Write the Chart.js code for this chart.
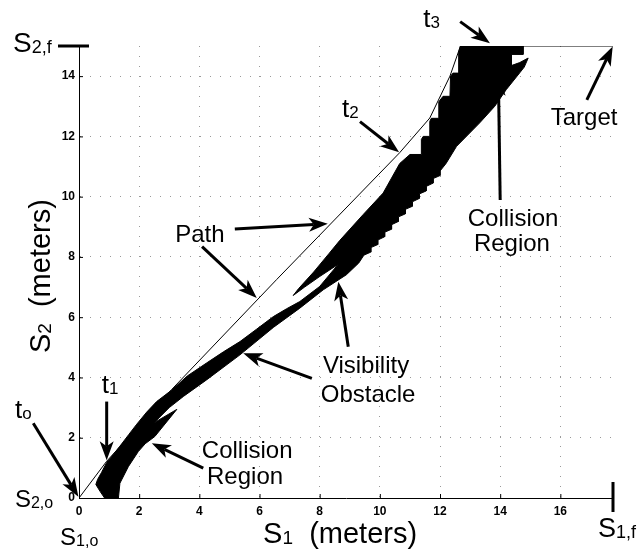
<!DOCTYPE html>
<html>
<head>
<meta charset="utf-8">
<script src="https://cdn.jsdelivr.net/npm/chart.js@4.4.1/dist/chart.umd.min.js"></script>
<style>
  html, body { margin: 0; padding: 0; background: #fff; }
</style>
</head>
<body>
<canvas id="chart" width="639" height="552"></canvas>
<script>
// axis ticks and the end of the domain
const xTicks = [0, 2, 4, 6, 8, 10, 12, 14, 16];
const yTicks = [0, 2, 4, 6, 8, 10, 12, 14];
const s1Final = 17.75;
const s2Final = 15;

// planned path through the s1-s2 plane
const pathPts = [
  [0, 0], [0.92, 1.22], [3.08, 3.6], [6.57, 7.25], [10.66, 11.46],
  [11.66, 12.61], [12.33, 14.0], [12.68, 15.0], [17.75, 15.0],
];

// collision region + visibility obstacle outline (closed)
const obstaclePts = [
  [0.85, 0.0], [0.7, 0.22], [0.56, 0.45], [0.62, 0.62], [0.75, 0.85],
  [0.92, 1.18], [1.15, 1.45], [1.36, 1.72], [1.65, 2.1], [1.92, 2.45],
  [2.25, 2.85], [2.58, 3.2], [3.08, 3.58], [3.6, 4.05], [4.24, 4.48],
  [4.8, 4.85], [5.35, 5.19], [5.9, 5.6], [6.46, 6.02], [6.9, 6.28],
  [7.34, 6.52], [8.0, 7.02], [8.61, 7.75],
  [8.0, 7.35], [7.5, 7.0], [7.12, 6.72], [7.3, 6.95], [7.8, 7.5],
  [8.3, 8.1], [8.67, 8.55], [9.44, 9.4], [10.11, 10.12], [10.66, 11.1],
  [11.0, 11.4], [11.38, 11.4], [11.38, 11.9], [11.44, 12.0], [11.66, 12.0],
  [11.66, 12.5], [11.71, 12.6], [11.96, 12.6], [11.96, 13.15], [12.1, 13.33],
  [12.33, 13.33], [12.35, 14.0], [12.43, 14.1], [12.6, 14.1], [12.62, 14.8],
  [12.68, 15.0], [14.76, 15.0], [14.76, 14.72], [14.37, 14.72], [14.37, 14.35],
  [14.65, 14.45], [14.93, 14.6], [14.8, 14.3], [14.65, 14.11], [14.2, 13.55],
  [13.82, 13.0], [13.32, 12.45], [12.55, 11.67], [12.2, 11.1],
  [12.0, 10.85], [12.0, 10.7], [11.77, 10.6], [11.77, 10.45], [11.54, 10.34],
  [11.54, 10.19], [11.31, 10.09], [11.31, 9.94], [11.08, 9.83], [11.08, 9.68],
  [10.85, 9.58], [10.85, 9.43], [10.62, 9.33], [10.62, 9.18], [10.39, 9.07],
  [10.39, 8.92], [10.16, 8.82], [10.16, 8.67], [9.93, 8.56], [9.93, 8.41],
  [9.7, 8.31], [9.7, 8.16], [9.47, 8.06], [9.3, 7.8], [8.89, 7.41],
  [8.12, 6.91], [7.34, 6.3], [6.46, 5.66], [5.35, 4.75], [4.24, 3.92],
  [3.47, 3.37], [3.0, 3.0], [2.5, 2.5], [3.25, 2.94], [2.52, 2.04],
  [2.2, 1.8], [1.97, 1.54], [1.64, 1.04], [1.36, 0.49], [1.31, 0.0],
  [0.85, 0.0],
];

const toXY = pts => pts.map(([x, y]) => ({ x, y }));

// annotation layout, in data units
const arrows = [
  [[-1.52, 2.48], [-0.02, 0.04]],
  [[0.92, 3.2], [0.92, 1.25]],
  [[9.34, 12.49], [10.64, 11.47]],
  [[12.67, 15.81], [13.66, 15.09]],
  [[16.88, 13.21], [17.74, 14.98]],
  [[5.18, 8.93], [8.27, 9.1]],
  [[4.09, 8.34], [5.91, 6.64]],
  [[8.95, 5.02], [8.62, 7.18]],
  [[7.74, 3.97], [5.46, 4.8]],
  [[4.13, 0.99], [2.42, 1.82]],
  [[14.0, 9.89], [13.94, 13.98]],
];

const words = [
  { text: 'Path', at: [4.02, 8.5] },
  { text: 'Visibility', at: [9.54, 4.15] },
  { text: 'Obstacle', at: [9.61, 3.19] },
  { text: 'Target', at: [16.79, 12.38] },
  { text: 'Collision', at: [14.43, 9.03] },
  { text: 'Region', at: [14.39, 8.2] },
  { text: 'Collision', at: [5.59, 1.33] },
  { text: 'Region', at: [5.52, 0.46] },
];

const subLabels = [
  { main: 't', sub: 'o', at: [-2.13, 2.66], size: 26, subSize: 17 },
  { main: 't', sub: '1', at: [0.76, 3.48], size: 26, subSize: 17 },
  { main: 't', sub: '2', at: [8.74, 12.64], size: 26, subSize: 17 },
  { main: 't', sub: '3', at: [11.44, 15.63], size: 26, subSize: 17 },
  { main: 'S', sub: '2,f', at: [-2.19, 14.8], size: 28, subSize: 18 },
  { main: 'S', sub: '2,o', at: [-2.13, -0.3], size: 24, subSize: 16 },
  { main: 'S', sub: '1,o', at: [-0.63, -1.56], size: 24, subSize: 16 },
  { main: 'S', sub: '1,f', at: [17.25, -1.29], size: 27, subSize: 18 },
];

const FONT = '"Liberation Sans", Arial, Helvetica, sans-serif';

function runs(ctx, parts, x, y) {
  let cx = x;
  for (const p of parts) {
    ctx.font = p.size + 'px ' + FONT;
    ctx.fillText(p.text, cx, y + (p.dy || 0));
    cx += ctx.measureText(p.text).width;
  }
}

function arrow(ctx, x0, y0, x1, y1) {
  const a = Math.atan2(y1 - y0, x1 - x0);
  const len = 19, half = 7, notch = 14;
  const bx = x1 - Math.cos(a) * notch, by = y1 - Math.sin(a) * notch;
  ctx.beginPath();
  ctx.moveTo(x0, y0);
  ctx.lineTo(bx, by);
  ctx.lineWidth = 3;
  ctx.stroke();
  const hx = x1 - Math.cos(a) * len, hy = y1 - Math.sin(a) * len;
  ctx.beginPath();
  ctx.moveTo(x1, y1);
  ctx.lineTo(hx - Math.sin(a) * half, hy + Math.cos(a) * half);
  ctx.lineTo(bx, by);
  ctx.lineTo(hx + Math.sin(a) * half, hy - Math.cos(a) * half);
  ctx.closePath();
  ctx.fill();
}

const decorations = {
  id: 'decorations',
  beforeDraw(chart) {
    const c = chart.ctx;
    c.save();
    c.fillStyle = '#fff';
    c.fillRect(0, 0, chart.width, chart.height);
    c.restore();
  },
  afterDraw(chart) {
    const c = chart.ctx;
    const sx = chart.scales.x, sy = chart.scales.y;
    const X = v => sx.getPixelForValue(v), Y = v => sy.getPixelForValue(v);
    c.save();
    c.fillStyle = '#000';
    c.strokeStyle = '#000';

    // inward tick marks
    c.lineWidth = 1;
    c.beginPath();
    for (const v of xTicks) {
      c.moveTo(X(v) + 0.5, Y(0));
      c.lineTo(X(v) + 0.5, Y(0) - 4);
    }
    for (const v of yTicks) {
      c.moveTo(X(0), Y(v) + 0.5);
      c.lineTo(X(0) + 4, Y(v) + 0.5);
    }
    c.stroke();

    // end markers of both axes
    c.lineWidth = 3;
    c.beginPath();
    c.moveTo(X(0) - 21, Y(s2Final));
    c.lineTo(X(0) + 10, Y(s2Final));
    c.moveTo(X(s1Final), Y(0) - 16);
    c.lineTo(X(s1Final), Y(0) + 14);
    c.stroke();

    for (const [[x0, y0], [x1, y1]] of arrows) {
      arrow(c, X(x0), Y(y0), X(x1), Y(y1));
    }

    c.textBaseline = 'alphabetic';
    c.textAlign = 'center';
    c.font = '24px ' + FONT;
    for (const w of words) {
      c.fillText(w.text, X(w.at[0]), Y(w.at[1]));
    }

    c.textAlign = 'left';
    for (const l of subLabels) {
      runs(c, [
        { text: l.main, size: l.size },
        { text: l.sub, size: l.subSize, dy: 1 },
      ], X(l.at[0]), Y(l.at[1]));
    }

    // axis titles
    runs(c, [
      { text: 'S', size: 29 },
      { text: '1', size: 19, dy: 1 },
      { text: '  (meters)', size: 29 },
    ], X(6.12), Y(-1.49));

    c.translate(X(-0.96), Y(4.81));
    c.rotate(-Math.PI / 2);
    runs(c, [
      { text: 'S', size: 29 },
      { text: '2', size: 19, dy: 1 },
      { text: '  (meters)', size: 29 },
    ], 0, 0);
    c.restore();
  },
};

const tickFont = { family: FONT, size: 12, weight: 'bold' };
const gridStyle = { color: '#9a9a9a', lineWidth: 1, drawTicks: false };
const borderStyle = { display: true, color: '#000', width: 1, dash: [1, 9] };

new Chart(document.getElementById('chart'), {
  type: 'scatter',
  data: {
    datasets: [
      {
        label: 'Path',
        data: toXY(pathPts),
        showLine: true,
        borderColor: '#000',
        borderWidth: 1,
        pointRadius: 0,
        fill: false,
      },
      {
        label: 'Obstacle',
        data: toXY(obstaclePts),
        showLine: true,
        borderColor: '#000',
        borderWidth: 1,
        backgroundColor: '#000',
        pointRadius: 0,
        fill: 'shape',
      },
    ],
  },
  options: {
    responsive: false,
    animation: false,
    layout: { padding: { left: 0, top: 46, right: 26, bottom: 0 } },
    plugins: {
      legend: { display: false },
      tooltip: { enabled: false },
    },
    scales: {
      x: {
        type: 'linear',
        min: 0,
        max: s1Final,
        afterBuildTicks: s => { s.ticks = xTicks.map(v => ({ value: v })); },
        afterFit: s => { s.height = 54; },
        grid: gridStyle,
        border: borderStyle,
        ticks: { color: '#000', font: tickFont, padding: 6, maxRotation: 0 },
      },
      y: {
        type: 'linear',
        min: 0,
        max: s2Final,
        afterBuildTicks: s => { s.ticks = yTicks.map(v => ({ value: v })); },
        afterFit: s => { s.width = 79; },
        grid: gridStyle,
        border: borderStyle,
        ticks: { color: '#000', font: tickFont, padding: 4 },
      },
    },
  },
  plugins: [decorations],
});
</script>
</body>
</html>
